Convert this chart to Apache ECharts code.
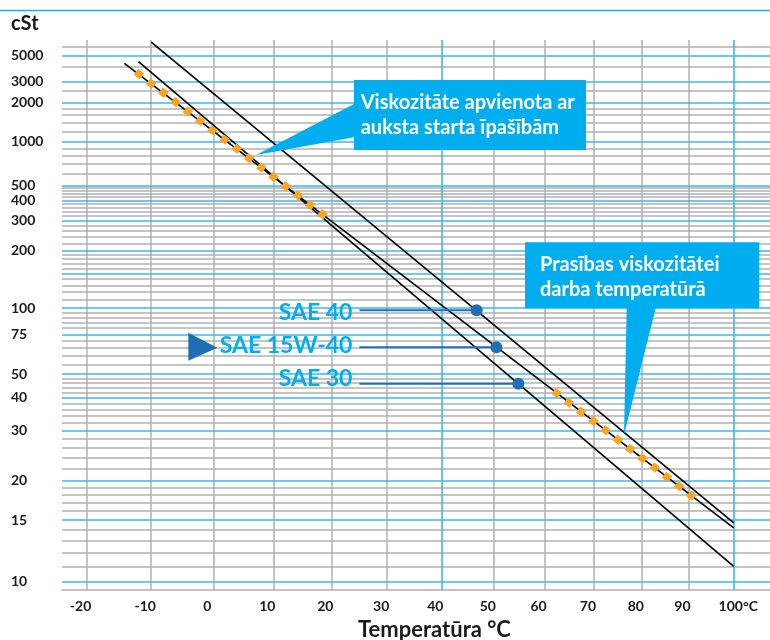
<!DOCTYPE html>
<html><head><meta charset="utf-8">
<script src="https://cdn.jsdelivr.net/npm/echarts@6/dist/echarts.min.js"></script>
<style>html,body{margin:0;padding:0;background:#fff}#c{width:770px;height:640px}</style>
</head><body><div id="c"></div>
<script>
// ---- data (temperature °C, viscosity cSt) ----
const tempTicks = [-20, -10, 0, 10, 20, 30, 40, 50, 60, 70, 80, 90, 100];
const viscTicks = [10, 15, 20, 30, 40, 50, 75, 100, 200, 300, 400, 500, 1000, 2000, 3000, 5000];
const blueViscLines = [10, 15, 20, 30, 40, 50, 75, 100, 150, 200, 300, 400, 500, 1000, 2000, 3000, 5000];
const grayViscLines = [11, 12, 13, 14, 16, 17, 18, 19, 22, 24, 26, 28, 32, 34, 36, 38, 42, 44, 46, 48,
  55, 60, 65, 70, 80, 85, 90, 95, 110, 120, 130, 140, 160, 170, 180, 190, 220, 240, 260, 280,
  320, 340, 360, 380, 420, 440, 460, 480, 600, 700, 800, 900, 1200, 1400, 1600, 1800, 2500, 4000, 6000, 7000];
const blueTempLines = [40, 100];
const grayTempLines = [-20, -10, 0, 10, 20, 30, 50, 60, 70, 80, 90];
const tempRange = [-23.7, 108.2];
const viscRange = [9.5, 7000];

const sae40 = [[-10, 6700], [100, 14.7]];
const sae15w40 = [[-14.2, 4300], [100, 14.2]];
const sae30 = [[-12, 4450], [100, 11.0]];
const coldSegment = [[-12.4, 3620], [19.0, 317]];
const hotSegment = [[61.8, 42.7], [91.3, 17.6]];

const markerLabels = ['SAE 40', 'SAE 15W-40', 'SAE 30'];
const markerStartT = [25, 25, 25];
const markerPoints = [[46.7, 97.4], [50.5, 65.4], [54.8, 45.6]];
const markerLabelOffsets = [[0, 2], [0, -2], [0, -5]];

const yTitle = 'cSt';
const xTitle = 'Temperatūra °C';
const callout1 = ['Viskozitāte apvienota ar', 'auksta starta īpašībām'];
const callout2 = ['Prasības viskozitātei', 'darba temperatūrā'];

// ---- ASTM D341 (Walther) transforms ----
const tx = t => Math.log10(t + 273.15);
const wy = v => Math.log10(Math.log10(v + 0.7));
const toPt = p => [tx(p[0]), wy(p[1])];

const FONT = 'Lato, "Open Sans", sans-serif';
const LBLUE = '#00aeef';
const DBLUE = '#1f6fb5';
const GRAY = '#b0b0b0';
const GBLUE = '#3db8ea';
const ORANGE = '#f7a527';

function hLines(vals, color, width) { return vals.map(v => ({ yAxis: wy(v), lineStyle: { color, width, type: 'solid' } })); }
function vLines(vals, color, width) { return vals.map(t => ({ xAxis: tx(t), lineStyle: { color, width, type: 'solid' } })); }
const markBase = { silent: true, precision: 12, symbol: ['none', 'none'], label: { show: false }, animation: false };

const chart = echarts.init(document.getElementById('c'));
const series = [
  { type: 'line', data: [], z: 1, silent: true,
    markLine: Object.assign({}, markBase, { z: 1, data: [...hLines(grayViscLines, GRAY, 1.5), ...vLines(grayTempLines, GRAY, 1.5)] }) },
  { type: 'line', data: [], z: 1, silent: true,
    markLine: Object.assign({}, markBase, { z: 1, data: [...hLines(blueViscLines, GBLUE, 1.6), ...vLines(blueTempLines, GBLUE, 1.6)] }) },
];
[sae40, sae15w40, sae30].forEach(d => series.push({
  type: 'line', data: d.map(toPt), symbol: 'none', silent: true, z: 3,
  lineStyle: { color: '#000', width: 1.6 }
}));
[coldSegment, hotSegment].forEach(d => series.push({
  type: 'line', data: d.map(toPt), symbol: 'none', silent: true, z: 4,
  lineStyle: { color: ORANGE, width: 7.5, type: [7.5, 7.9], cap: 'butt' }
}));
markerPoints.forEach((p, i) => series.push({
  type: 'line', silent: true, z: 5, showSymbol: true,
  lineStyle: { color: DBLUE, width: 2 }, itemStyle: { color: DBLUE },
  data: [
    { value: [tx(markerStartT[i]), wy(p[1])], symbol: 'circle', symbolSize: 0.01,
      label: { show: true, position: 'left', distance: 7, offset: markerLabelOffsets[i], formatter: markerLabels[i],
        color: LBLUE, fontSize: 23, fontWeight: 'bold', fontFamily: FONT } },
    { value: toPt(p), symbol: 'circle', symbolSize: 12, label: { show: false } }
  ]
}));

const rich = {
  n: { fontSize: 14, fontWeight: 'bold', fontFamily: FONT, color: '#1a1a1a', padding: [0, 12, 0, 0] },
  u: { fontSize: 14, fontWeight: 'bold', fontFamily: FONT, color: '#1a1a1a', padding: [0, 0, 0, 9] }
};

function txt(text, x, y, size, fill, align) {
  return { type: 'text', x, y, z: 20, silent: true,
    style: { text, font: 'bold ' + size + 'px ' + FONT, fill, align: align || 'left', verticalAlign: 'middle',
      textAlign: align || 'left', textVerticalAlign: 'middle' } };
}

chart.setOption({
  animation: false,
  grid: { left: 62, right: 0, top: 40, bottom: 50 },
  xAxis: {
    type: 'value', min: tx(tempRange[0]), max: tx(tempRange[1]),
    axisLine: { show: true, onZero: false, lineStyle: { color: GRAY, width: 1.5 } },
    axisTick: { show: false }, splitLine: { show: false },
    axisLabel: {
      customValues: tempTicks.map(tx), margin: 9, rich,
      formatter: v => { const t = Math.round(Math.pow(10, v) - 273.15); return t === 100 ? '{u|100°C}' : '{n|' + t + '}'; }
    }
  },
  yAxis: {
    type: 'value', min: wy(viscRange[0]), max: wy(viscRange[1]),
    axisLine: { show: false }, axisTick: { show: false }, splitLine: { show: false },
    axisLabel: {
      customValues: viscTicks.map(wy), margin: 51, align: 'left',
      fontSize: 14, fontWeight: 'bold', fontFamily: FONT, color: '#1a1a1a',
      formatter: v => String(Math.round(Math.pow(10, Math.pow(10, v)) - 0.7))
    }
  },
  series,
  graphic: [
    { type: 'line', z: 20, silent: true, shape: { x1: 0, y1: 10.5, x2: 770, y2: 10.5 }, style: { stroke: '#1cb0ea', lineWidth: 1.5 } },
    txt(yTitle, 11, 23.5, 20, '#1a1a1a'),
    txt(xTitle, 358, 629.5, 22, '#1a1a1a'),
    { type: 'polygon', z: 15, silent: true, shape: { points: [[354, 80], [586, 80], [586, 150], [354, 150], [354, 137.3], [256, 155], [354, 104]] }, style: { fill: LBLUE } },
    txt(callout1[0], 360.7, 102.3, 20, '#fff'),
    txt(callout1[1], 360.7, 127.8, 20, '#fff'),
    { type: 'polygon', z: 15, silent: true, shape: { points: [[525, 242.3], [759.3, 242.3], [759.3, 308.3], [655.7, 308.3], [624, 435], [626.7, 308.3], [525, 308.3]] }, style: { fill: LBLUE } },
    txt(callout2[0], 540, 265, 20, '#fff'),
    txt(callout2[1], 540, 290, 20, '#fff'),
    { type: 'polygon', z: 15, silent: true, shape: { points: [[188.3, 332.7], [188.3, 360.7], [217.3, 347.7]] }, style: { fill: DBLUE } }
  ]
});
</script></body></html>
